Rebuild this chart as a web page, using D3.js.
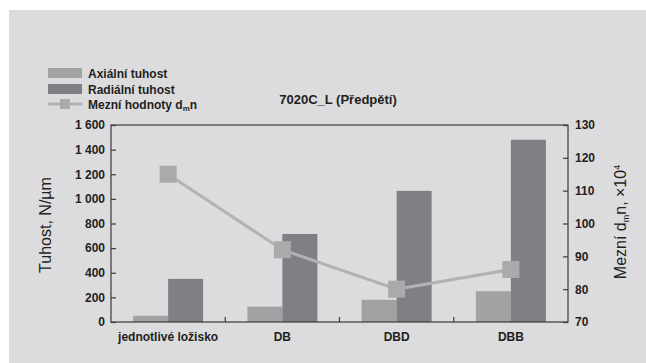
<!DOCTYPE html>
<html><head><meta charset="utf-8">
<script src="https://cdn.jsdelivr.net/npm/d3@7"></script>
<style>
body{margin:0;background:#fff;}
text{font-family:"Liberation Sans",Arial,sans-serif;fill:#231f20;}
</style></head>
<body><svg id="c" width="646" height="363"></svg>
<script>
const categories = ["jednotlivé ložisko","DB","DBD","DBB"];
const axialValues = [50,125,180,250];
const radialValues = [350,715,1065,1480];
const limitValues = [115,92,80,86];
const leftTicks = [0,200,400,600,800,1000,1200,1400,1600];
const rightTicks = [70,80,90,100,110,120,130];
const title = "7020C_L (Předpětí)";

const svg = d3.select("#c");
svg.append("rect").attr("x",9).attr("y",10).attr("width",637).attr("height",353).attr("fill","#dcdcde");

const L=111,R=568,T=125,B=322;
const x = d3.scaleBand().domain(categories).range([L,R]).padding(0);
const y = d3.scaleLinear().domain([0,1600]).range([B,T]);
const y2 = d3.scaleLinear().domain([70,130]).range([B,T]);
const bw = 35;

const fmt = d => d>=1000 ? String(d).replace(/(\d)(\d{3})$/,"$1 $2") : String(d);

// bars
const g = svg.append("g");
g.selectAll(".ax").data(categories).enter().append("rect")
  .attr("x",d=>x(d)+x.bandwidth()/2-bw).attr("width",bw)
  .attr("y",(d,i)=>y(axialValues[i])).attr("height",(d,i)=>B-y(axialValues[i]))
  .attr("fill","#a1a2a4");
g.selectAll(".rd").data(categories).enter().append("rect")
  .attr("x",d=>x(d)+x.bandwidth()/2).attr("width",bw)
  .attr("y",(d,i)=>y(radialValues[i])).attr("height",(d,i)=>B-y(radialValues[i]))
  .attr("fill","#7f8083");

// frame
svg.append("rect").attr("x",L).attr("y",T).attr("width",R-L).attr("height",B-T)
  .attr("fill","none").attr("stroke","#3a3a3c").attr("stroke-width",1.2);

// left axis
const la = svg.append("g").attr("transform",`translate(${L},0)`)
  .call(d3.axisLeft(y).tickValues(leftTicks).tickFormat(fmt).tickSize(-5).tickPadding(6));
// right axis
const ra = svg.append("g").attr("transform",`translate(${R},0)`)
  .call(d3.axisRight(y2).tickValues(rightTicks).tickSize(-5).tickPadding(7));
// bottom axis
const xa = svg.append("g").attr("transform",`translate(0,${B})`)
  .call(d3.axisBottom(x).tickSize(0).tickPadding(10));
[la,ra,xa].forEach(a=>{
  a.select(".domain").remove();
  a.selectAll("line").attr("stroke","#3a3a3c").attr("stroke-width",1.2);
  a.selectAll("text").style("font-family","'Liberation Sans',Arial,sans-serif").style("font-size","12px").style("font-weight","bold").attr("fill","#231f20");
});
svg.selectAll(".sep").data(categories.slice(1)).enter().append("line")
  .attr("x1",d=>x(d)).attr("x2",d=>x(d)).attr("y1",B).attr("y2",B-5)
  .attr("stroke","#3a3a3c").attr("stroke-width",1.2);

// line
const pts = categories.map((c,i)=>[x(c)+x.bandwidth()/2, y2(limitValues[i])]);
svg.append("path").attr("d",d3.line()(pts)).attr("fill","none").attr("stroke","#b1b2b4").attr("stroke-width",3);
svg.selectAll(".mk").data(pts).enter().append("rect")
  .attr("x",d=>d[0]-8.5).attr("y",d=>d[1]-8.5).attr("width",17).attr("height",17).attr("fill","#a9aaac");

// title
svg.append("text").attr("x",338).attr("y",104).attr("text-anchor","middle")
  .style("font-size","13px").style("font-weight","bold").text(title);

// axis titles
svg.append("text").attr("transform","translate(51,225) rotate(-90)").attr("text-anchor","middle")
  .style("font-size","16px").text("Tuhost, N/µm");
const rt = svg.append("text").attr("transform","translate(626,222) rotate(-90)").attr("text-anchor","middle")
  .style("font-size","16px");
rt.append("tspan").text("Mezní d");
rt.append("tspan").attr("font-size","9px").attr("dy",3).text("m");
rt.append("tspan").attr("dy",-3).text("n, ×10");
rt.append("tspan").attr("font-size","9px").attr("dy",-6).text("4");

// legend
const lg = svg.append("g");
lg.append("rect").attr("x",48).attr("y",68).attr("width",34).attr("height",10).attr("fill","#a1a2a4");
lg.append("rect").attr("x",48).attr("y",84).attr("width",34).attr("height",10).attr("fill","#7f8083");
lg.append("line").attr("x1",48).attr("x2",82).attr("y1",104).attr("y2",104).attr("stroke","#b1b2b4").attr("stroke-width",3);
lg.append("rect").attr("x",60).attr("y",99).attr("width",10).attr("height",10).attr("fill","#a9aaac");
const lt = (yy,s)=>lg.append("text").attr("x",88).attr("y",yy).style("font-size","12px").style("font-weight","bold").text(s);
lt(78,"Axiální tuhost");
lt(94,"Radiální tuhost");
const t3 = lt(109,"Mezní hodnoty d");
t3.append("tspan").attr("font-size","8px").attr("dy",2).text("m");
t3.append("tspan").attr("dy",-2).text("n");
</script></body></html>
